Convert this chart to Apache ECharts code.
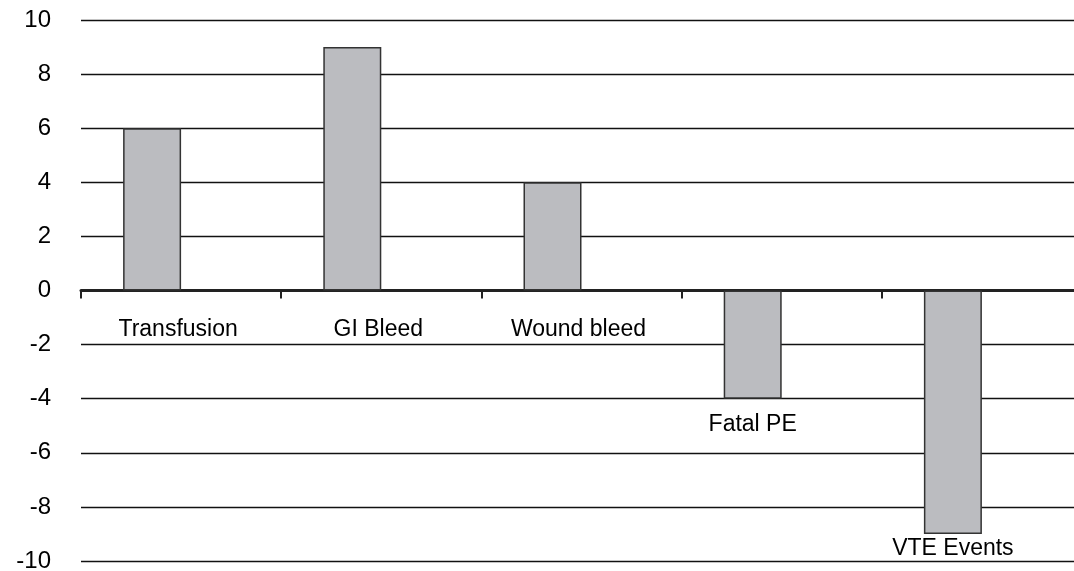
<!DOCTYPE html>
<html lang="en">
<head>
  <meta charset="UTF-8">
  <title>bar-chart</title>
  <style>
    html, body { margin: 0; padding: 0; background: #fff; }
    #main { width: 1074px; height: 571px; }
  </style>
</head>
<body>
  <div id="main"></div>
  <script src="https://cdn.jsdelivr.net/npm/echarts@6/dist/echarts.min.js"></script>
  <script>
    var categories = ['Transfusion', 'GI Bleed', 'Wound bleed', 'Fatal PE', 'VTE Events']
    var values = [6, 9, 4, -4, -9]
    var yTicks = [-10, -8, -6, -4, -2, 0, 2, 4, 6, 8, 10]

    var font = 'Arial, "Liberation Sans", sans-serif'
    var myChart = echarts.init(document.getElementById('main'))

    // category names sit under the zero line for positive bars,
    // and under the bar end for negative ones
    function labelFor (v, i) {
      if (v >= 0) {
        return { show: true, position: 'bottom', distance: 28, offset: [26, 0], formatter: categories[i] }
      }
      return { show: true, position: 'outside', distance: i === 3 ? 14 : 3, formatter: categories[i] }
    }

    var option = {
      animation: false,
      grid: { left: 81, right: -8, top: 20, bottom: 10, containLabel: false, outerBoundsMode: 'none' },
      xAxis: {
        type: 'category',
        data: categories,
        axisLine: { onZero: true, lineStyle: { color: '#222', width: 3 } },
        axisTick: { show: true, length: 8, lineStyle: { color: '#222', width: 2 } },
        axisLabel: { show: false },
        splitLine: { show: false }
      },
      yAxis: {
        type: 'value',
        min: yTicks[0],
        max: yTicks[yTicks.length - 1],
        interval: 2,
        axisLine: { show: false },
        axisTick: { show: false },
        axisLabel: { margin: 30, color: '#000', fontFamily: font, fontSize: 24 },
        splitLine: { lineStyle: { color: '#111', width: 1.3 } }
      },
      series: [
        {
          type: 'bar',
          barWidth: 58,
          barGap: '0%',
          data: values.map(function (v, i) {
            return { value: v, label: labelFor(v, i) }
          }),
          itemStyle: { color: '#bbbcc0', borderColor: '#333', borderWidth: 1.5 },
          label: { color: '#000', fontFamily: font, fontSize: 23 }
        },
        {
          type: 'bar',
          barWidth: 58,
          data: []
        }
      ]
    }
    myChart.setOption(option)
  </script>
</body>
</html>
